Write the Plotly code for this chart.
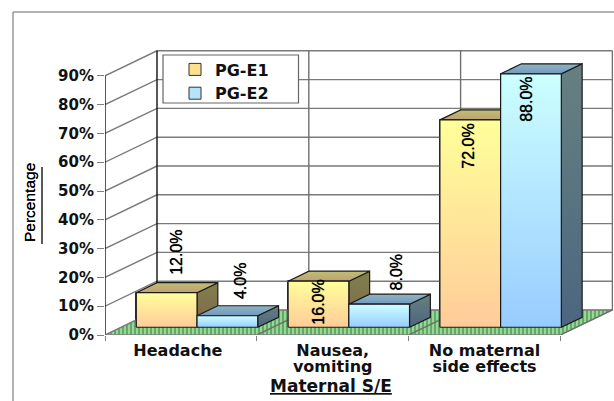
import plotly.graph_objects as go

# Chart data
categories = ["Headache", "Nausea,<br>vomiting", "No maternal<br>side effects"]
series_names = ["PG-E1", "PG-E2"]
pg_e1 = [12.0, 16.0, 72.0]
pg_e2 = [4.0, 8.0, 88.0]
pct_ticks = [0, 10, 20, 30, 40, 50, 60, 70, 80, 90]

# Canvas and plot box, in pixels
W, H = 614, 401
L, R, T, B = 105, 1, 50, 66
plot_w, plot_h = W - L - R, H - T - B
PX_PER_CAT = 151.8
PX_PER_PCT = 2.88

# Oblique projection: how far the back wall sits from the front plane, in axis units
DEPTH_X = 52 / PX_PER_CAT
DEPTH_Y = 25 / PX_PER_PCT
# Bars sit part-way into the floor and take up part of its depth
BAR_FRONT = 0.31
BAR_DEPTH = 0.40
BAR_W = 0.40
BAR_GAP = 0.10

FACE_STYLES = [
    dict(front=("#FFFF99", "#FFCC99"), top=("#BFBF73", "#BFA073"), side=("#80804D", "#80664D"), mean="#FFE08F"),
    dict(front=("#CCFFFF", "#99CCFF"), top=("#8FB4BF", "#7399BF"), side=("#668080", "#4D6680"), mean="#B5E3FF"),
]
# Nudges for the value labels, in pixels (right, up)
LABEL_SHIFTS = [
    [(10.5, 40), (0, -21), (-2, -26.5)],
    [(13, 35), (17, 32), (-4, -25)],
]

fig = go.Figure()


def polygon(xs, ys, colors=None, line="#1a1a1a", width=1.2):
    """Add one filled face with a top-to-bottom gradient."""
    fig.add_trace(go.Scatter(
        x=xs + xs[:1], y=ys + ys[:1], mode="lines", fill="toself",
        fillgradient=dict(type="vertical", colorscale=[[0, colors[1]], [1, colors[0]]]),
        line=dict(color=line, width=width), showlegend=False, hoverinfo="skip", cliponaxis=False,
    ))


def wire(xs, ys, color="#7a7a7a", width=1.4):
    fig.add_trace(go.Scatter(x=xs, y=ys, mode="lines", line=dict(color=color, width=width),
                             showlegend=False, hoverinfo="skip", cliponaxis=False))


n_cat = len(categories)
base = BAR_FRONT * DEPTH_Y
front_x = BAR_FRONT * DEPTH_X

# Native bars carry the values and the legend entries
for s, values in enumerate([pg_e1, pg_e2]):
    fig.add_trace(go.Bar(
        x=[i + BAR_GAP + front_x + BAR_W * (s + 0.5) for i in range(n_cat)],
        y=values, base=base, width=BAR_W, name=series_names[s],
        marker=dict(color=FACE_STYLES[s]["mean"], line=dict(color="#333333", width=1)),
        hoverinfo="skip",
    ))

# Striped floor
fig.add_trace(go.Scatter(
    x=[0, DEPTH_X, n_cat + DEPTH_X, n_cat, 0], y=[0, DEPTH_Y, DEPTH_Y, 0, 0],
    mode="lines", fill="toself", line=dict(color="#6f8f6f", width=0.6),
    fillpattern=dict(shape="|", bgcolor="#A0DC9A", fgcolor="#1F7A35", size=4, solidity=0.55),
    showlegend=False, hoverinfo="skip", cliponaxis=False,
))

# Gridlines over the side and back walls
for t in pct_ticks:
    wire([0, DEPTH_X, n_cat + DEPTH_X], [t, t + DEPTH_Y, t + DEPTH_Y])
for i in range(1, n_cat + 1):
    wire([i, i + DEPTH_X, i + DEPTH_X], [0, DEPTH_Y, pct_ticks[-1] + DEPTH_Y], color="#707070")
wire([DEPTH_X, DEPTH_X], [DEPTH_Y, pct_ticks[-1] + DEPTH_Y], color="#111111")
wire([0, 0], [0, pct_ticks[-1]], color="#111111", width=1.4)
wire([0, n_cat], [0, 0], color="#808080", width=1.4)

# Bar faces, painted back to front
dx = BAR_DEPTH * DEPTH_X
dy = BAR_DEPTH * DEPTH_Y
for i in range(n_cat):
    for s, values in enumerate([pg_e1, pg_e2]):
        x0 = i + BAR_GAP + front_x + BAR_W * s
        x1 = x0 + BAR_W
        top = base + values[i]
        st = FACE_STYLES[s]
        polygon([x1, x1 + dx, x1 + dx, x1], [base, base + dy, top + dy, top], st["side"])
        polygon([x0, x1, x1 + dx, x0 + dx], [top, top, top + dy, top + dy], st["top"])
        polygon([x0, x1, x1, x0], [base, base, top, top], st["front"])

# Rotated value labels
annotations = []
for s, values in enumerate([pg_e1, pg_e2]):
    for i, v in enumerate(values):
        sx, sy = LABEL_SHIFTS[s][i]
        annotations.append(dict(
            x=i + BAR_GAP + front_x + BAR_W * (s + 0.5), y=base + v, xref="x", yref="y",
            xanchor="center", yanchor="middle",
            text=f"{v:.1f}%", textangle=-90, showarrow=False, xshift=sx, yshift=sy,
            font=dict(family="Liberation Sans", size=16, color="#000000", shadow="0px 0px 0.7px #000000"),
        ))


def paper_x(px):
    return (px - L) / plot_w


def paper_y(py):
    return 1 - (py - T) / plot_h


annotations.append(dict(
    x=paper_x(331), y=paper_y(386), xref="paper", yref="paper", showarrow=False,
    xanchor="center", yanchor="middle",
    text="<b><u>Maternal S/E</u></b>",
    font=dict(family="DejaVu Sans", size=17, color="#111111"),
))
annotations.append(dict(
    x=paper_x(29), y=paper_y(203), xref="paper", yref="paper", showarrow=False, textangle=-90,
    xanchor="center", yanchor="middle",
    text="Percentage",
    font=dict(family="Liberation Sans", size=15.5, color="#000000", shadow="0px 0px 0.5px #000000"),
))

shapes = [
    # Outer frame: top and left edges only
    dict(type="line", xref="paper", yref="paper", x0=paper_x(13), x1=paper_x(614), y0=paper_y(12), y1=paper_y(12),
         line=dict(color="#999999", width=1.5)),
    dict(type="line", xref="paper", yref="paper", x0=paper_x(13), x1=paper_x(13), y0=paper_y(12), y1=paper_y(401),
         line=dict(color="#999999", width=1.5)),
    # Underline of the vertical axis title
    dict(type="line", xref="paper", yref="paper", x0=paper_x(42), x1=paper_x(42), y0=paper_y(167), y1=paper_y(244),
         line=dict(color="#222222", width=1.5)),
    # Legend box
    dict(type="rect", xref="paper", yref="paper", x0=paper_x(163), x1=paper_x(298.5), y0=paper_y(55), y1=paper_y(103),
         fillcolor="#FFFFFF", line=dict(color="#666666", width=1.2), layer="above"),
]

fig.update_layout(
    width=W, height=H, autosize=False, margin=dict(l=L, r=R, t=T, b=B, pad=0),
    paper_bgcolor="#FFFFFF", plot_bgcolor="#FFFFFF", barmode="overlay", bargap=0,
    font=dict(family="DejaVu Sans", color="#111111"),
    shapes=shapes, annotations=annotations,
    legend=dict(x=paper_x(175), y=paper_y(52.5), xanchor="left", yanchor="top", bgcolor="rgba(0,0,0,0)",
                borderwidth=0, font=dict(family="DejaVu Sans", size=16, weight="bold", color="#111111"),
                itemclick=False, itemdoubleclick=False),
    xaxis=dict(
        range=[0, plot_w / PX_PER_CAT], showgrid=False, zeroline=False, showline=False,
        tickmode="array", tickvals=[0.48, 1.5, 2.5],
        ticktext=[f"<span style='font-size:16px'><b>{c}</b></span>" for c in categories],
        ticks="", ticklabelstandoff=8, tickfont=dict(family="DejaVu Sans", size=12, color="#111111"),
        minor=dict(tickmode="array", tickvals=[0, 1, 2, 3], ticks="outside", ticklen=5,
                   tickcolor="#808080", tickwidth=1.2, showgrid=False),
    ),
    yaxis=dict(
        range=[0, plot_h / PX_PER_PCT], showgrid=False, zeroline=False, showline=False,
        tickmode="array", tickvals=pct_ticks, ticktext=[f"{t}%" for t in pct_ticks],
        ticks="outside", ticklen=7, tickcolor="#808080", tickwidth=1.2,
        tickfont=dict(family="DejaVu Sans", size=15, weight="bold", color="#111111"),
    ),
)

fig.write_html("out.html")
